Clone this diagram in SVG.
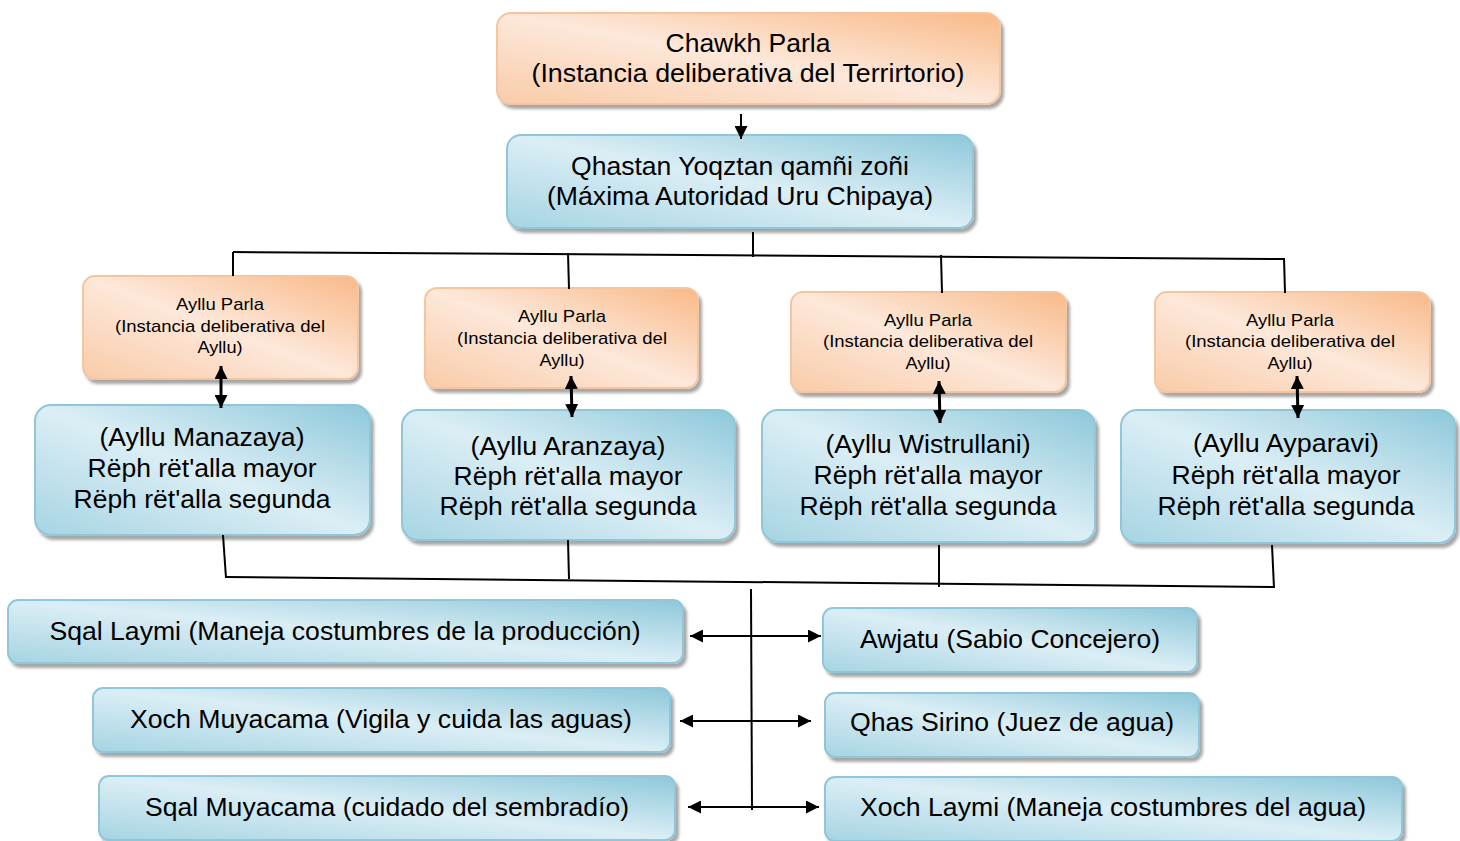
<svg xmlns="http://www.w3.org/2000/svg" width="1460" height="841" viewBox="0 0 1460 841">
<defs>
<linearGradient id="gO" x1="1" y1="0" x2="0" y2="1">
<stop offset="0" stop-color="#f8b987"/>
<stop offset="0.5" stop-color="#fde8da"/>
<stop offset="1" stop-color="#f9cba8"/>
</linearGradient>
<linearGradient id="gB" x1="1" y1="0" x2="0" y2="1">
<stop offset="0" stop-color="#8ec8da"/>
<stop offset="0.5" stop-color="#dbeef5"/>
<stop offset="1" stop-color="#a6d4e3"/>
</linearGradient>
<filter id="sh" x="-5%" y="-10%" width="115%" height="130%">
<feGaussianBlur in="SourceAlpha" stdDeviation="1.5"/>
<feOffset dx="3" dy="4" result="o"/>
<feComponentTransfer><feFuncA type="linear" slope="0.35"/></feComponentTransfer>
<feMerge><feMergeNode/><feMergeNode in="SourceGraphic"/></feMerge>
</filter>
<marker id="ah" viewBox="0 0 12 12" refX="12" refY="6" markerWidth="13" markerHeight="13" markerUnits="userSpaceOnUse" orient="auto-start-reverse">
<path d="M0,0 L12,6 L0,12 z" fill="#000"/>
</marker>
</defs>
<style>
.o{fill:url(#gO);stroke:#f6c49e;stroke-width:2;filter:url(#sh)}
.b{fill:url(#gB);stroke:#8fc7d9;stroke-width:2;filter:url(#sh)}
text{font-family:"Liberation Sans",Arial,sans-serif;fill:#000;text-anchor:middle}
.t24{font-size:25px}
.t16{font-size:17px}
.c line{stroke:#000;stroke-width:2;fill:none}
.c .a{marker-start:url(#ah);marker-end:url(#ah);stroke-width:3}
.c .ah{marker-start:url(#ah);marker-end:url(#ah)}
</style>

<g id="chawkh">
<rect class="o" x="497" y="13" width="503" height="91" rx="14"/>
<text class="t24" x="748" y="52" textLength="165" lengthAdjust="spacingAndGlyphs">Chawkh Parla</text>
<text class="t24" x="748" y="82" textLength="433" lengthAdjust="spacingAndGlyphs">(Instancia deliberativa del Terrirtorio)</text>
</g>
<g id="qhastan">
<rect class="b" x="507" y="135" width="466" height="93" rx="14"/>
<text class="t24" x="740" y="175" textLength="338" lengthAdjust="spacingAndGlyphs">Qhastan Yoqztan qamñi zoñi</text>
<text class="t24" x="740" y="205" textLength="386" lengthAdjust="spacingAndGlyphs">(Máxima Autoridad Uru Chipaya)</text>
</g>

<g id="parla1">
<rect class="o" x="83" y="276" width="275" height="103" rx="12"/>
<text class="t16" x="220" y="310" textLength="88" lengthAdjust="spacingAndGlyphs">Ayllu Parla</text>
<text class="t16" x="220" y="332" textLength="210" lengthAdjust="spacingAndGlyphs">(Instancia deliberativa del</text>
<text class="t16" x="220" y="353" textLength="45" lengthAdjust="spacingAndGlyphs">Ayllu)</text>
</g>
<g id="parla2">
<rect class="o" x="425" y="288" width="273" height="100" rx="12"/>
<text class="t16" x="562" y="322" textLength="88" lengthAdjust="spacingAndGlyphs">Ayllu Parla</text>
<text class="t16" x="562" y="344" textLength="210" lengthAdjust="spacingAndGlyphs">(Instancia deliberativa del</text>
<text class="t16" x="562" y="366" textLength="45" lengthAdjust="spacingAndGlyphs">Ayllu)</text>
</g>
<g id="parla3">
<rect class="o" x="791" y="292" width="275" height="100" rx="12"/>
<text class="t16" x="928" y="326" textLength="88" lengthAdjust="spacingAndGlyphs">Ayllu Parla</text>
<text class="t16" x="928" y="347" textLength="210" lengthAdjust="spacingAndGlyphs">(Instancia deliberativa del</text>
<text class="t16" x="928" y="369" textLength="45" lengthAdjust="spacingAndGlyphs">Ayllu)</text>
</g>
<g id="parla4">
<rect class="o" x="1155" y="292" width="275" height="100" rx="12"/>
<text class="t16" x="1290" y="326" textLength="88" lengthAdjust="spacingAndGlyphs">Ayllu Parla</text>
<text class="t16" x="1290" y="347" textLength="210" lengthAdjust="spacingAndGlyphs">(Instancia deliberativa del</text>
<text class="t16" x="1290" y="369" textLength="45" lengthAdjust="spacingAndGlyphs">Ayllu)</text>
</g>

<g id="manazaya">
<rect class="b" x="35" y="405" width="335" height="130" rx="16"/>
<text class="t24" x="202" y="446" textLength="205" lengthAdjust="spacingAndGlyphs">(Ayllu Manazaya)</text>
<text class="t24" x="202" y="477" textLength="229" lengthAdjust="spacingAndGlyphs">Rëph rët'alla mayor</text>
<text class="t24" x="202" y="508" textLength="257" lengthAdjust="spacingAndGlyphs">Rëph rët'alla segunda</text>
</g>
<g id="aranzaya">
<rect class="b" x="402" y="410" width="333" height="130" rx="16"/>
<text class="t24" x="568" y="455" textLength="195" lengthAdjust="spacingAndGlyphs">(Ayllu Aranzaya)</text>
<text class="t24" x="568" y="485" textLength="229" lengthAdjust="spacingAndGlyphs">Rëph rët'alla mayor</text>
<text class="t24" x="568" y="515" textLength="257" lengthAdjust="spacingAndGlyphs">Rëph rët'alla segunda</text>
</g>
<g id="wistrullani">
<rect class="b" x="762" y="410" width="333" height="132" rx="16"/>
<text class="t24" x="928" y="453" textLength="205" lengthAdjust="spacingAndGlyphs">(Ayllu Wistrullani)</text>
<text class="t24" x="928" y="484" textLength="229" lengthAdjust="spacingAndGlyphs">Rëph rët'alla mayor</text>
<text class="t24" x="928" y="515" textLength="257" lengthAdjust="spacingAndGlyphs">Rëph rët'alla segunda</text>
</g>
<g id="ayparavi">
<rect class="b" x="1121" y="410" width="334" height="133" rx="16"/>
<text class="t24" x="1286" y="452" textLength="186" lengthAdjust="spacingAndGlyphs">(Ayllu Ayparavi)</text>
<text class="t24" x="1286" y="484" textLength="229" lengthAdjust="spacingAndGlyphs">Rëph rët'alla mayor</text>
<text class="t24" x="1286" y="515" textLength="257" lengthAdjust="spacingAndGlyphs">Rëph rët'alla segunda</text>
</g>

<g id="sqal-laymi">
<rect class="b" x="8" y="600" width="675" height="63" rx="10"/>
<text class="t24" x="345" y="640" textLength="591" lengthAdjust="spacingAndGlyphs">Sqal Laymi (Maneja costumbres de la producción)</text>
</g>
<g id="xoch-muyacama">
<rect class="b" x="93" y="688" width="577" height="64" rx="10"/>
<text class="t24" x="381" y="728" textLength="502" lengthAdjust="spacingAndGlyphs">Xoch Muyacama (Vigila y cuida las aguas)</text>
</g>
<g id="sqal-muyacama">
<rect class="b" x="99" y="776" width="576" height="64" rx="10"/>
<text class="t24" x="387" y="816" textLength="484" lengthAdjust="spacingAndGlyphs">Sqal Muyacama (cuidado del sembradío)</text>
</g>
<g id="awjatu">
<rect class="b" x="823" y="608" width="374" height="64" rx="10"/>
<text class="t24" x="1010" y="648" textLength="300" lengthAdjust="spacingAndGlyphs">Awjatu (Sabio Concejero)</text>
</g>
<g id="qhas-sirino">
<rect class="b" x="825" y="693" width="374" height="64" rx="10"/>
<text class="t24" x="1012" y="731" textLength="324" lengthAdjust="spacingAndGlyphs">Qhas Sirino (Juez de agua)</text>
</g>
<g id="xoch-laymi">
<rect class="b" x="825" y="777" width="577" height="64" rx="10"/>
<text class="t24" x="1113" y="816" textLength="506" lengthAdjust="spacingAndGlyphs">Xoch Laymi (Maneja costumbres del agua)</text>
</g>

<g id="connectors" class="c">
<line x1="741" y1="114" x2="741" y2="139" marker-end="url(#ah)"/>
<line x1="753" y1="232" x2="753" y2="257"/>
<line x1="233" y1="252" x2="1285" y2="259"/>
<line x1="233" y1="252" x2="233" y2="276"/>
<line x1="568" y1="253" x2="569" y2="289"/>
<line x1="941" y1="255" x2="942" y2="293"/>
<line x1="1284" y1="258" x2="1285" y2="293"/>
<line class="a" x1="221" y1="366" x2="221" y2="408"/>
<line class="a" x1="571" y1="376" x2="572" y2="417"/>
<line class="a" x1="939" y1="381" x2="940" y2="423"/>
<line class="a" x1="1297" y1="376" x2="1298" y2="418"/>
<line x1="223" y1="535" x2="226" y2="578"/>
<line x1="568" y1="540" x2="569" y2="579"/>
<line x1="939" y1="545" x2="939" y2="587"/>
<line x1="1272" y1="545" x2="1274" y2="588"/>
<line x1="226" y1="577" x2="1274" y2="587"/>
<line x1="751" y1="589" x2="752" y2="810"/>
<line class="ah" x1="690" y1="636" x2="821" y2="636"/>
<line class="ah" x1="680" y1="721" x2="811" y2="721"/>
<line class="ah" x1="688" y1="807" x2="819" y2="807"/>
</g>
</svg>
